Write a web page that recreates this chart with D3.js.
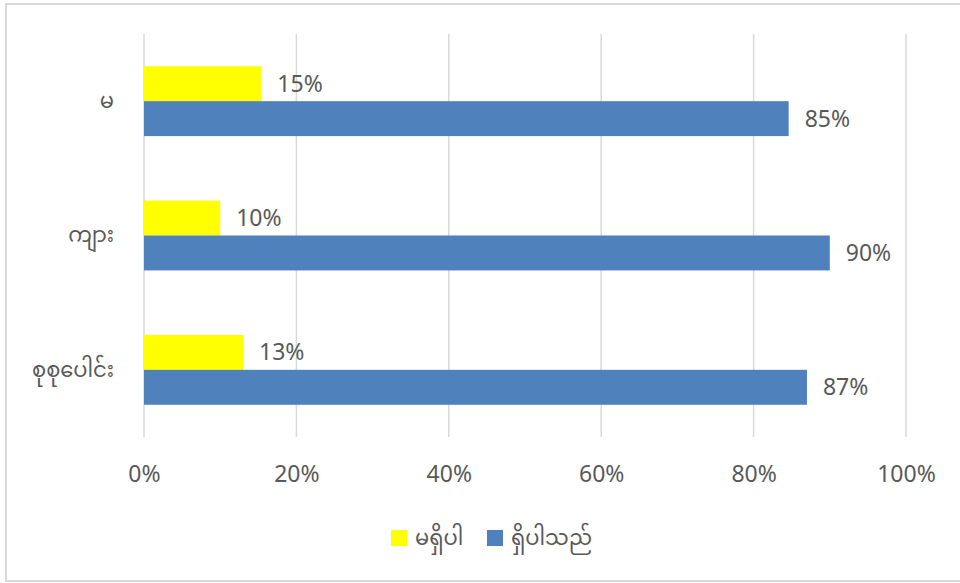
<!DOCTYPE html>
<html>
<head>
<meta charset="utf-8">
<script src="https://cdn.jsdelivr.net/npm/d3@7"></script>
<style>
    body { margin: 0; background: #fff; }
    text { font-family: "Segoe UI", "Noto Sans", "Noto Sans Myanmar", sans-serif; fill: #595959; }
</style>
</head>
<body>
<script>
// chart data
const categories = ["မ", "ကျား", "စုစုပေါင်း"];
const seriesNames = ["မရှိပါ", "ရှိပါသည်"];
const noValues = [15.4, 10, 13];     // မရှိပါ
const yesValues = [84.6, 90, 87];    // ရှိပါသည်
const tickValues = [0, 20, 40, 60, 80, 100];

const colors = ["#ffff00", "#4f81bd"];
const width = 960, height = 583;
const margin = { top: 34, right: 54, bottom: 146, left: 144 };

let svg = d3.select("body").append("svg")
    .attr("width", width)
    .attr("height", height);

// outer chart border
svg.append("rect")
    .attr("x", 6).attr("y", 4)
    .attr("width", 960).attr("height", 577)
    .attr("fill", "#fff")
    .attr("stroke", "#d9d9d9")
    .attr("stroke-width", 2);

let xScale = d3.scaleLinear()
    .domain([0, 100])
    .range([margin.left, width - margin.right]);

let yScale = d3.scaleBand()
    .domain(categories)
    .range([margin.top, height - margin.bottom])
    .paddingInner(0.48)
    .paddingOuter(0.24);

let subScale = d3.scaleBand()
    .domain(seriesNames)
    .range([0, yScale.bandwidth()]);

// vertical gridlines
svg.append("g")
    .selectAll("line")
    .data(tickValues)
    .join("line")
    .attr("x1", d => xScale(d)).attr("x2", d => xScale(d))
    .attr("y1", margin.top).attr("y2", height - margin.bottom)
    .attr("stroke", "#d9d9d9")
    .attr("stroke-width", 1.5);

// x axis labels
let xAxis = svg.append("g")
    .attr("transform", "translate(0," + (height - margin.bottom + 26) + ")")
    .call(d3.axisBottom(xScale).tickValues(tickValues).tickFormat(d => d + "%").tickSize(0));
xAxis.select(".domain").remove();
xAxis.selectAll("text")
    .attr("font-size", 23)
    .attr("fill", "#595959")
    .style("font-family", null);

// category labels
let yAxis = svg.append("g")
    .attr("transform", "translate(" + (margin.left - 30) + ",0)")
    .call(d3.axisLeft(yScale).tickSize(0).tickPadding(0));
yAxis.select(".domain").remove();
yAxis.selectAll("text")
    .attr("font-size", 21)
    .attr("fill", "#595959")
    .style("font-family", null);

// bars
const rows = categories.map((c, i) => ({ cat: c, values: [noValues[i], yesValues[i]] }));

let groups = svg.append("g")
    .selectAll("g")
    .data(rows)
    .join("g")
    .attr("transform", d => "translate(0," + yScale(d.cat) + ")");

groups.selectAll("rect")
    .data(d => d.values.map((v, j) => ({ name: seriesNames[j], value: v, j: j })))
    .join("rect")
    .attr("x", xScale(0))
    .attr("y", d => subScale(d.name))
    .attr("width", d => xScale(d.value) - xScale(0))
    .attr("height", subScale.bandwidth())
    .attr("fill", d => colors[d.j]);

// value labels
groups.selectAll("text.val")
    .data(d => d.values.map((v, j) => ({ name: seriesNames[j], value: v })))
    .join("text")
    .attr("class", "val")
    .attr("x", d => xScale(d.value) + 16)
    .attr("y", d => subScale(d.name) + subScale.bandwidth() / 2)
    .attr("dy", "0.35em")
    .attr("font-size", 23)
    .text(d => Math.round(d.value) + "%");

// legend
const legendX = [391, 487];
let legend = svg.append("g")
    .selectAll("g")
    .data(seriesNames)
    .join("g")
    .attr("transform", (d, i) => "translate(" + legendX[i] + ",530)");

legend.append("rect")
    .attr("width", 16).attr("height", 16)
    .attr("fill", (d, i) => colors[i]);

legend.append("text")
    .attr("x", 24).attr("y", 8)
    .attr("dy", "0.35em")
    .attr("font-size", 21)
    .text(d => d);
</script>
</body>
</html>
